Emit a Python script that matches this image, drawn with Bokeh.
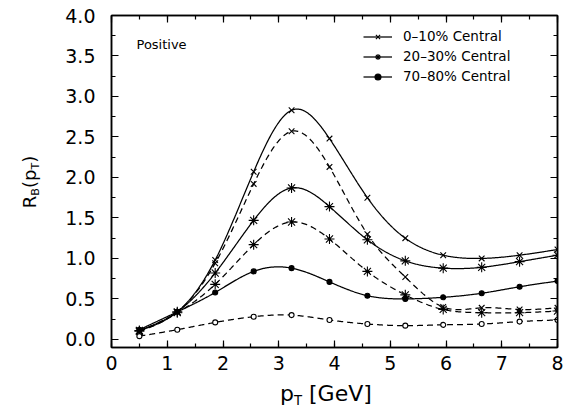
import numpy as np
from bokeh.plotting import figure
from bokeh.models import (Range1d, LinearAxis, SingleIntervalTicker, PrintfTickFormatter,
                          Label, Legend, LegendItem, Div)
from bokeh.layouts import column, row
from bokeh.embed import file_html
from bokeh.resources import INLINE

# ---------------- data ----------------
pt = [0.5, 1.18, 1.86, 2.55, 3.23, 3.91, 4.59, 5.27, 5.95, 6.64, 7.32, 8.0]

central_0_10_solid = [0.11, 0.34, 0.98, 2.07, 2.83, 2.48, 1.75, 1.25, 1.04, 1.00, 1.04, 1.11]
central_0_10_dash = [0.10, 0.34, 0.94, 1.92, 2.57, 2.13, 1.30, 0.77, 0.40, 0.39, 0.37, 0.39]
central_20_30_solid = [0.11, 0.34, 0.82, 1.47, 1.87, 1.64, 1.23, 0.97, 0.88, 0.89, 0.96, 1.04]
central_20_30_dash = [0.10, 0.33, 0.68, 1.17, 1.45, 1.24, 0.84, 0.55, 0.37, 0.33, 0.33, 0.35]
central_70_80_solid = [0.12, 0.34, 0.58, 0.84, 0.88, 0.71, 0.54, 0.50, 0.52, 0.57, 0.65, 0.72]
central_70_80_dash = [0.04, 0.12, 0.21, 0.28, 0.30, 0.24, 0.19, 0.17, 0.18, 0.19, 0.22, 0.24]

legend_labels = ["0\u201310% Central", "20\u201330% Central", "70\u201380% Central"]
panel_text = "Positive"
x_title = "p<sub>T</sub> [GeV]"
y_title = "R<sub>B</sub>(p<sub>T</sub>)"
x_ticks_interval = 1
y_ticks_interval = 0.5

FONT = "DejaVu Sans"

YL_W = 50                      # width of the y-title column
PW, PH = 519, 375              # plot canvas
XL_H = 40                      # height of the x-title strip
BL, BR, BT, BB = 61, 12, 15, 28
XMIN, XMAX = 0, 8
YMIN, YMAX = -0.1, 4.0


def spline(x, y, n=500):
    """natural cubic spline (like gnuplot 'smooth csplines') used to draw the curves"""
    x = np.asarray(x, float)
    y = np.asarray(y, float)
    m = len(x)
    h = np.diff(x)
    A = np.zeros((m, m))
    r = np.zeros(m)
    A[0, 0] = 1
    A[-1, -1] = 1
    for i in range(1, m - 1):
        A[i, i - 1] = h[i - 1]
        A[i, i] = 2 * (h[i - 1] + h[i])
        A[i, i + 1] = h[i]
        r[i] = 3 * ((y[i + 1] - y[i]) / h[i] - (y[i] - y[i - 1]) / h[i - 1])
    c = np.linalg.solve(A, r)
    b = (y[1:] - y[:-1]) / h - h * (2 * c[:-1] + c[1:]) / 3
    d = (c[1:] - c[:-1]) / (3 * h)
    xs = np.linspace(x[0], x[-1], n)
    idx = np.clip(np.searchsorted(x, xs) - 1, 0, m - 2)
    t = xs - x[idx]
    ys = y[idx] + b[idx] * t + c[idx] * t ** 2 + d[idx] * t ** 3
    return xs, ys


p = figure(width=PW, height=PH, output_backend="svg", toolbar_location=None,
           x_range=Range1d(XMIN, XMAX), y_range=Range1d(YMIN, YMAX),
           min_border_left=BL, min_border_right=BR, min_border_top=BT, min_border_bottom=BB,
           x_axis_location=None, y_axis_location=None, margin=0)
p.grid.visible = False
p.outline_line_color = "black"
p.outline_line_width = 1.5
p.background_fill_color = "white"
p.border_fill_color = "white"


def style_axis(ax, labels=True):
    ax.axis_line_color = "black"
    ax.axis_line_width = 1.5
    ax.major_tick_in = 7
    ax.major_tick_out = 0
    ax.minor_tick_in = 4
    ax.minor_tick_out = 0
    ax.major_tick_line_color = "black"
    ax.minor_tick_line_color = "black"
    ax.major_tick_line_width = 1.2
    ax.minor_tick_line_width = 1.2
    if labels:
        ax.major_label_text_font = FONT
        ax.major_label_text_font_size = "19px"
        ax.major_label_text_color = "black"
    else:
        ax.major_label_text_color = None
        ax.major_label_text_font_size = "1px"
        ax.major_label_standoff = 0


xb = LinearAxis(ticker=SingleIntervalTicker(interval=x_ticks_interval, num_minor_ticks=2))
style_axis(xb)
xb.major_label_standoff = 8
p.add_layout(xb, "below")

xt = LinearAxis(ticker=SingleIntervalTicker(interval=x_ticks_interval, num_minor_ticks=2))
style_axis(xt, labels=False)
p.add_layout(xt, "above")

yl = LinearAxis(ticker=SingleIntervalTicker(interval=y_ticks_interval, num_minor_ticks=2),
                formatter=PrintfTickFormatter(format="%.1f"))
style_axis(yl)
yl.major_label_standoff = 16
p.add_layout(yl, "left")

yr = LinearAxis(ticker=SingleIntervalTicker(interval=y_ticks_interval, num_minor_ticks=2))
style_axis(yr, labels=False)
p.add_layout(yr, "right")

DASH = "6 4"
series = [
    (central_0_10_solid, "solid", "x", 8, "black"),
    (central_0_10_dash, DASH, "x", 8, "black"),
    (central_20_30_solid, "solid", "asterisk", 10, "black"),
    (central_20_30_dash, DASH, "asterisk", 10, "black"),
    (central_70_80_solid, "solid", "circle", 5, "black"),
    (central_70_80_dash, DASH, "circle", 5, "white"),
]

rends = []
for ys, dash, mk, sz, fill in series:
    sx, sy = spline(pt, ys)
    ln = p.line(sx, sy, line_color="black", line_width=1.25, line_dash=dash)
    sc = p.scatter(pt, ys, marker=mk, size=sz, line_color="black", fill_color=fill,
                   line_width=1.1)
    rends.append((ln, sc))

legend = Legend(items=[
    LegendItem(label=legend_labels[0], renderers=[rends[0][0], rends[0][1]]),
    LegendItem(label=legend_labels[1], renderers=[rends[2][0], rends[2][1]]),
    LegendItem(label=legend_labels[2], renderers=[rends[4][0], rends[4][1]]),
], location=(252, 263), orientation="vertical")
legend.border_line_color = None
legend.background_fill_alpha = 0
legend.padding = 0
legend.margin = 0
legend.spacing = 4
legend.glyph_width = 29
legend.glyph_height = 15
legend.label_height = 15
legend.label_standoff = 11
legend.label_text_font = FONT
legend.label_text_font_size = "13.5px"
legend.label_text_color = "black"
p.add_layout(legend)

# "Positive" panel tag (inside the frame)
p.add_layout(Label(x=XMIN + (136 - 111) / (PW - BL - BR) * (XMAX - XMIN),
                   y=YMIN + (PH - BB - 44) / (PH - BT - BB) * (YMAX - YMIN),
                   text=panel_text, text_font=FONT, text_font_size="13px",
                   text_baseline="middle", text_color="black"))

# axis titles as HTML (real text with subscripts)
ydiv = Div(width=YL_W, height=PH, margin=0,
           text=('<div style="position:absolute; left:31px; top:182px; '
                 'transform:translate(-50%,-50%) rotate(-90deg); white-space:nowrap; '
                 f'font-family:\'{FONT}\'; font-size:18px; line-height:1; color:black;">'
                 + y_title.replace("<sub>", '<sub style="font-size:0.62em; vertical-align:-0.25em;">')
                 + '</div>'),
           styles={"position": "relative", "overflow": "visible"})
xdiv = Div(width=YL_W + PW, height=XL_H, margin=0,
           text=('<div style="margin-left:280px; margin-top:8px; white-space:nowrap; '
                 f'font-family:\'{FONT}\'; font-size:22px; line-height:1; color:black;">'
                 + x_title.replace("<sub>", '<sub style="font-size:0.6em; vertical-align:-0.3em;">')
                 + '</div>'))

layout = column(row(ydiv, p, spacing=0, margin=0), xdiv, spacing=0, margin=0)

open("out.html", "w").write(file_html(layout, INLINE))
